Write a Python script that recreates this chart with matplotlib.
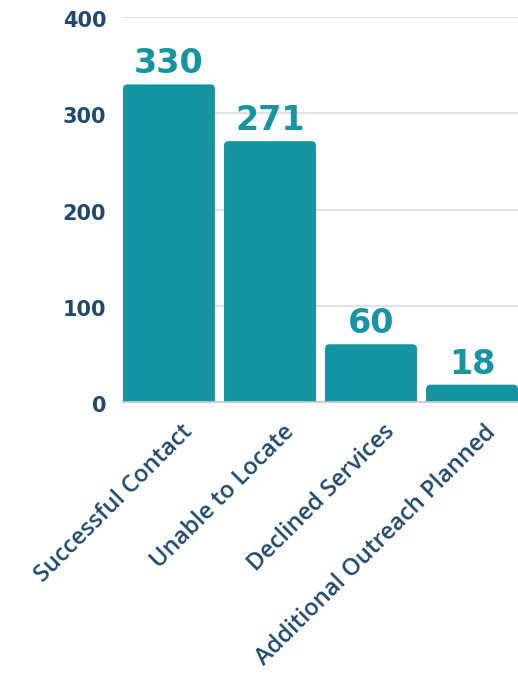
import matplotlib.pyplot as plt
import matplotlib.transforms as mtransforms
from matplotlib.patches import FancyBboxPatch

categories = ["Successful Contact", "Unable to Locate", "Declined Services",
              "Additional Outreach Planned"]
counts = [330, 271, 60, 18]
y_ticks = [0, 100, 200, 300, 400]

BAR = "#1594a2"
NAVY = "#1f4a6d"
plt.rcParams["font.family"] = ["DejaVu Sans"]

fig = plt.figure(figsize=(5.18, 6.73), dpi=100)
ax = fig.add_axes([123 / 518, 1 - 402 / 673, 1 - 123 / 518, 385 / 673])

x = range(len(categories))
bars = ax.bar(x, counts, width=0.91, color=BAR, zorder=3)
# swap plain bars for ones with slightly rounded tops
aspect = (1 / 0.9625) / (1 / 101.3)
for b in bars:
    b.set_visible(False)
    r = FancyBboxPatch((b.get_x(), -6), b.get_width(), b.get_height() + 6,
                       boxstyle="round,pad=0,rounding_size=0.045",
                       mutation_aspect=aspect, facecolor=BAR,
                       edgecolor="none", zorder=3)
    ax.add_patch(r)
ax.bar_label(bars, labels=[str(v) for v in counts], padding=3,
             color=BAR, fontsize=24, fontweight="bold")

ax.set_xlim(-0.455, len(categories) - 0.545)
ax.set_ylim(0, 400)
ax.set_yticks(y_ticks)
ax.set_yticklabels([str(t) for t in y_ticks], color=NAVY, fontsize=15,
                   fontweight="bold")
ax.tick_params(axis="y", length=0, pad=12)
ydown = mtransforms.ScaledTranslation(0, -2 / 100, fig.dpi_scale_trans)
for lbl in ax.get_yticklabels():
    lbl.set_transform(lbl.get_transform() + ydown)
ax.grid(axis="y", color="#dcdcdc", linewidth=1.2, zorder=0)

ax.set_xticks(list(x))
ax.set_xticklabels(categories, rotation=45, ha="right", va="top",
                   rotation_mode="anchor", color=NAVY, fontsize=17,
                   family="Open Sans", fontweight="semibold")
ax.tick_params(axis="x", length=0, pad=13)
offset = mtransforms.ScaledTranslation(12 / 100, 0, fig.dpi_scale_trans)
for lbl in ax.get_xticklabels():
    lbl.set_transform(lbl.get_transform() + offset)

for s in ["top", "right", "left"]:
    ax.spines[s].set_visible(False)
ax.spines["bottom"].set_color("#c8c8c8")
ax.spines["bottom"].set_linewidth(1.2)
ax.spines["bottom"].set_zorder(4)

fig.savefig("out.png", dpi=100)
